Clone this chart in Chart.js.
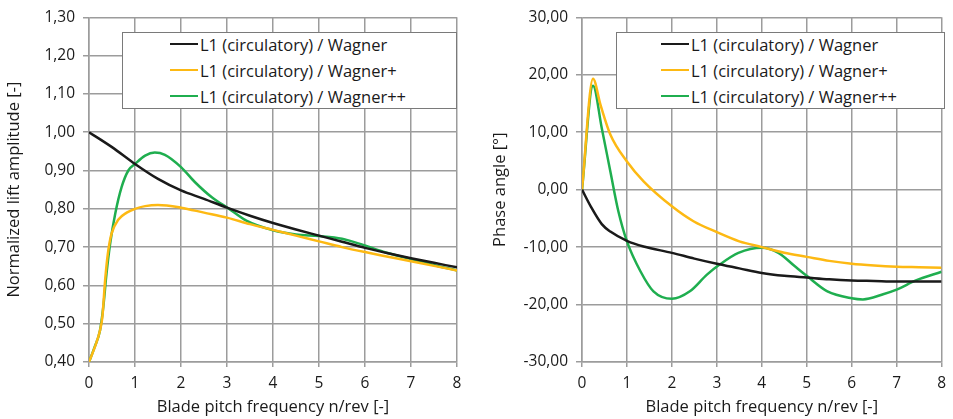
<!DOCTYPE html>
<html>
<head>
<meta charset="utf-8">
<script src="https://cdn.jsdelivr.net/npm/chart.js@4"></script>
<style>
  html, body { margin:0; padding:0; background:#fff; }
  #wrap { position:relative; width:953px; height:419px; overflow:hidden; font-family:"Open Sans", sans-serif; }
  .cv { position:absolute; top:0; }
  .legend { position:absolute; box-sizing:border-box; border:1.5px solid #7a7a7a; background:#fff; }
  .row { position:absolute; left:0; height:20px; display:flex; align-items:center; font-size:16.5px; color:#1a1a1a; white-space:nowrap; }
  .swatch { display:inline-block; width:28px; height:2.5px; margin-right:2px; }
</style>
</head>
<body>
<div id="wrap">
  <canvas id="ampChart" class="cv" width="476" height="419" style="left:0"></canvas>
  <canvas id="phaseChart" class="cv" width="477" height="419" style="left:476px"></canvas>
</div>
<script>
// ---------- Data ----------
const seriesLabels = ["L1 (circulatory) / Wagner", "L1 (circulatory) / Wagner+", "L1 (circulatory) / Wagner++"];
const seriesColors = ["#1a1a1a", "#fdb913", "#1fae4f"];

// Left: normalized lift amplitude
const ampWagnerX = [0,0.5,1,1.5,2,2.5,3,3.5,4,4.5,5,5.5,6,6.5,7,7.5,8];
const ampWagnerY = [1.000,0.961,0.917,0.878,0.848,0.826,0.803,0.782,0.763,0.746,0.730,0.714,0.698,0.684,0.671,0.659,0.647];

const ampWagnerPlusX = [0,0.13,0.24,0.29,0.35,0.41,0.49,0.64,0.82,1.0,1.22,1.5,2.0,2.5,3,3.5,4,4.5,5,5.5,6,6.5,7,7.5,8];
const ampWagnerPlusY = [0.400,0.440,0.483,0.517,0.613,0.683,0.735,0.772,0.790,0.800,0.807,0.810,0.803,0.790,0.777,0.760,0.745,0.730,0.715,0.700,0.687,0.675,0.663,0.651,0.639];

const ampWagnerPPX = [0,0.12,0.24,0.31,0.38,0.46,0.57,0.71,0.855,1.0,1.22,1.43,1.65,2.0,2.3,2.67,3.03,3.42,4.0,4.5,5.0,5.5,5.93,6.45,7.0,7.47,8.0];
const ampWagnerPPY = [0.400,0.438,0.483,0.543,0.630,0.709,0.787,0.857,0.900,0.917,0.939,0.947,0.941,0.909,0.870,0.830,0.801,0.769,0.744,0.733,0.729,0.722,0.707,0.686,0.669,0.654,0.639];

// Right: phase angle
const phWagnerX = [0,0.2,0.44,0.63,1.0,1.37,2.0,2.5,3,3.5,4,4.5,5,5.5,6,6.5,7,7.5,8];
const phWagnerY = [0,-3.0,-6.0,-7.3,-8.9,-9.9,-11.0,-12.0,-12.9,-13.7,-14.5,-15.0,-15.3,-15.6,-15.8,-15.9,-16.0,-16.0,-16.0];

const phWagnerPlusX = [0,0.245,0.41,0.63,1.0,1.37,2.0,2.48,3.0,3.5,4.0,4.5,5,5.5,6,6.5,7,7.5,8];
const phWagnerPlusY = [0,19.3,14.8,9.6,4.9,1.45,-2.9,-5.5,-7.4,-9.0,-10.0,-11.0,-11.7,-12.4,-12.9,-13.2,-13.4,-13.5,-13.6];

const phWagnerPPX = [0,0.245,0.44,0.63,0.81,1.0,1.3,1.59,2.0,2.4,2.78,3.07,3.48,4.0,4.37,4.73,5.0,5.46,6.0,6.25,6.7,7.0,7.43,8.0];
const phWagnerPPY = [0,18.1,10.7,3.2,-3.8,-9.0,-14.2,-17.7,-19.0,-17.7,-14.8,-13.0,-11.0,-10.1,-11.0,-13.3,-15.0,-17.7,-18.9,-19.1,-18.2,-17.4,-15.8,-14.3];

const xTicks = [0,1,2,3,4,5,6,7,8];
const ampRange = [0.40, 1.30, 0.10];
const phaseRange = [-30, 30, 10];
const xTitle = "Blade pitch frequency n/rev [-]";
const ampTitle = "Normalized lift amplitude [-]";
const phaseTitle = "Phase angle [°]";

// ---------- Helpers ----------
const FONT = "'Open Sans', sans-serif";
const TXT = "#1a1a1a";
const GRID = "#9c9c9c";

function pts(xs, ys) { return xs.map((x, i) => ({x: x, y: ys[i]})); }
function ds(i, xs, ys) {
  return { label: seriesLabels[i], data: pts(xs, ys), borderColor: seriesColors[i], backgroundColor: seriesColors[i],
           borderWidth: 2.5, pointRadius: 0, cubicInterpolationMode: 'monotone', fill: false };
}
function fmt(v) { return v.toFixed(2).replace('.', ','); }

function makeChart(id, datasets, yr, yTitle, yTitlePad, rightPad, yWidth) {
  return new Chart(document.getElementById(id), {
    type: 'line',
    data: { datasets: datasets },
    options: {
      responsive: false, animation: false, devicePixelRatio: 1,
      layout: { padding: { top: 16, right: rightPad, left: 0, bottom: 0 } },
      plugins: { legend: { display: false }, tooltip: { enabled: false } },
      scales: {
        x: {
          type: 'linear', min: xTicks[0], max: xTicks[xTicks.length - 1],
          afterFit: s => { s.height = 57; },
          afterBuildTicks: s => { s.ticks = xTicks.map(v => ({value: v})); },
          ticks: { color: TXT, font: { family: FONT, size: 15.5 }, padding: 7, maxRotation: 0,
                   callback: v => String(v) },
          grid: { color: GRID, lineWidth: 1.5, tickLength: 5 },
          border: { color: GRID, width: 1.5 },
          title: { display: true, text: xTitle, color: TXT, font: { family: FONT, size: 16.5 }, padding: { top: 0, bottom: 2 } }
        },
        y: {
          type: 'linear', min: yr[0], max: yr[1],
          afterFit: s => { s.width = yWidth; },
          ticks: { stepSize: yr[2], color: TXT, font: { family: FONT, size: 15.5 }, padding: 8,
                   callback: v => fmt(v) },
          grid: { color: GRID, lineWidth: 1.5, tickLength: 6 },
          border: { color: GRID, width: 1.5 },
          title: { display: true, text: yTitle, color: TXT, font: { family: FONT, size: 16.5 }, padding: { top: yTitlePad, bottom: 0 } }
        }
      }
    }
  });
}

makeChart('ampChart', [
  ds(0, ampWagnerX, ampWagnerY),
  ds(1, ampWagnerPlusX, ampWagnerPlusY),
  ds(2, ampWagnerPPX, ampWagnerPPY)
], ampRange, ampTitle, 4, 19, 89);

makeChart('phaseChart', [
  ds(0, phWagnerX, phWagnerY),
  ds(1, phWagnerPlusX, phWagnerPlusY),
  ds(2, phWagnerPPX, phWagnerPPY)
], phaseRange, phaseTitle, 14, 7, 106);

// ---------- Legends (HTML, inside plot areas) ----------
function legend(left, top, width, height, padLeft) {
  const box = document.createElement('div');
  box.className = 'legend';
  Object.assign(box.style, { left: left + 'px', top: top + 'px', width: width + 'px', height: height + 'px' });
  seriesLabels.forEach((lab, i) => {
    const row = document.createElement('div');
    row.className = 'row';
    row.style.left = padLeft + 'px';
    row.style.top = (1 + i * 26) + 'px';
    const sw = document.createElement('span');
    sw.className = 'swatch';
    sw.style.background = seriesColors[i];
    const tx = document.createElement('span');
    tx.textContent = lab;
    row.appendChild(sw); row.appendChild(tx);
    box.appendChild(row);
  });
  document.getElementById('wrap').appendChild(box);
}
legend(122, 32, 335, 77, 47);
legend(616, 32, 329, 77, 44);
</script>
</body>
</html>
